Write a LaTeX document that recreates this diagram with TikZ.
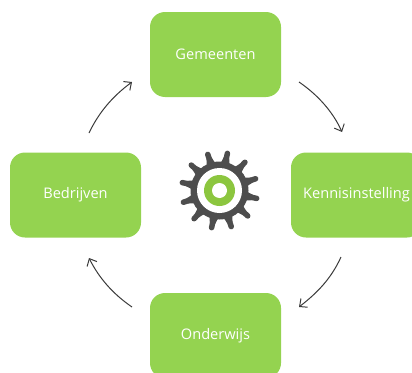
\documentclass[tikz,border=0pt]{standalone}
\usepackage{fontspec}
\setmainfont{Open Sans}
\definecolor{boxgreen}{HTML}{94D350}
\definecolor{geargrey}{HTML}{4D4D4D}
\definecolor{ringgreen}{HTML}{8CC63F}
\definecolor{arrowgrey}{HTML}{3A3A3A}
\usetikzlibrary{arrows.meta}
\tikzset{
  x=1pt,y=-1pt,
  greenbox/.style={fill=boxgreen,rounded corners=15pt,minimum width=131pt,minimum height=85pt,inner sep=0pt,text=white,font=\fontsize{14.6pt}{17pt}\selectfont},
  flowarrow/.style={draw=arrowgrey,line width=1pt,-{Straight Barb[length=6pt,width=11pt,line width=1pt]}},
  geartooth/.style={draw=geargrey,line width=5.5pt,line cap=round}
}
\begin{document}
\begin{tikzpicture}
\useasboundingbox (0,0) rectangle (412,372);
\clip (0,0) rectangle (412,372);
\node[greenbox] (gem) at (215.5,54.5) {Gemeenten};
\node[greenbox] (ken) at (356.5,195) {Kennisinstelling};
\node[greenbox] (bed) at (75.5,195) {Bedrijven};
\node[greenbox] (ond) at (215.5,335.5) {Onderwijs};
\coordinate (a1s) at (299,82);
\coordinate (a1e) at (342,132);
\coordinate (a2s) at (341,257);
\coordinate (a2e) at (299,307);
\coordinate (a3s) at (132,307);
\coordinate (a3e) at (89,258);
\coordinate (a4s) at (89,133);
\coordinate (a4e) at (132,82);
\draw[flowarrow] (a1s) .. controls (318,95) and (333,112) .. (a1e);
\draw[flowarrow] (a2s) .. controls (331,279) and (317,293) .. (a2e);
\draw[flowarrow] (a3s) .. controls (113,294) and (99,278) .. (a3e);
\draw[flowarrow] (a4s) .. controls (99,112) and (113,96) .. (a4e);
% gear
\coordinate (g) at (219.5,190.5);
\foreach \a in {0,30,...,330}{
  \draw[geartooth] ([shift={(\a-12:24pt)}]g) -- ([shift={(\a-12:38pt)}]g);
  \fill[geargrey] ([shift={(\a-12-9:28pt)}]g) -- ([shift={(\a-12-4.5:34pt)}]g)
     -- ([shift={(\a-12+4.5:34pt)}]g) -- ([shift={(\a-12+9:28pt)}]g) -- cycle;
}
\fill[geargrey] (g) circle[radius=29pt];
\fill[white] (g) circle[radius=22.5pt];
\fill[ringgreen] (g) circle[radius=15.5pt];
\fill[white] (g) circle[radius=7.5pt];
\end{tikzpicture}
\end{document}
